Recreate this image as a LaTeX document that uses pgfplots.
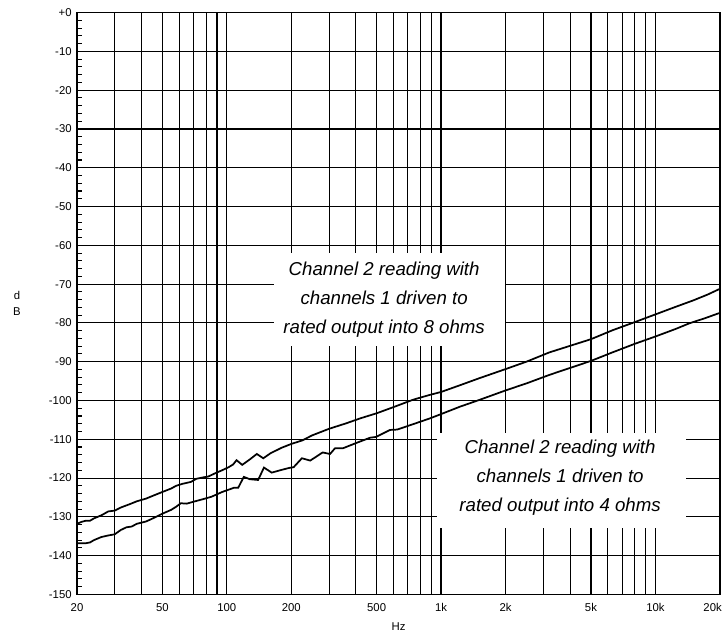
\documentclass[border=0pt]{standalone}
\usepackage{fontspec}
\setmainfont{Liberation Sans}
\usepackage{pgfplots}
\pgfplotsset{compat=1.18}
\begin{document}
\begin{tikzpicture}
\begin{axis}[
  at={(57.75pt,31.95pt)}, anchor=south west,
  scale only axis, width=482.25pt, height=436.35pt,
  xmode=log, xmin=20, xmax=20000, ymin=-150, ymax=0,
  xtick={20,30,40,50,60,70,80,90,100,200,300,400,500,600,700,800,900,1000,2000,3000,4000,5000,6000,7000,8000,9000,10000,20000},
  xticklabels={20,{},{},50,{},{},{},{},100,200,{},{},500,{},{},{},{},1k,2k,{},{},5k,{},{},{},{},10k,{}},
  minor xtick={},
  ytick={-150,-140,...,0},
  yticklabels={-150,-140,-130,-120,-110,-100,-90,-80,-70,-60,-50,-40,-30,-20,-10,+0},
  minor ytick={-148,-146,...,-2},
  xmajorgrids, ymajorgrids,
  major grid style={black, line width=0.8pt},
  axis line style={black, line width=0.8pt},
  ytick pos=left, xtick pos=bottom,
  major tick length=0pt, minor tick length=3.75pt,
  tick style={black, line width=0.8pt},
  tick label style={font=\fontsize{8.5}{10}\selectfont},
  xticklabel style={yshift=-3.5pt},
  yticklabel style={xshift=-0.5pt},
  clip=false,
]
\addplot[black, line width=1.3pt] coordinates {
(20,-131.8)(21,-131.3)(22,-131.0)(23,-131.0)(24,-130.4)(26,-129.6)(28,-128.6)(30,-128.4)
(32,-127.6)(35,-126.8)(38,-126.0)(42,-125.3)(46,-124.4)(50,-123.6)(55,-122.7)(58,-122.0)
(62,-121.5)(68,-121.0)(72,-120.2)(78,-119.8)(82,-119.6)(88,-118.8)(95,-118.0)(102,-117.2)
(107,-116.5)(111,-115.4)(118,-116.6)(128,-115.2)(138,-113.8)(148,-114.9)(160,-113.6)
(180,-112.2)(200,-111.2)(225,-110.3)(250,-109.0)(300,-107.3)(360,-105.9)(420,-104.6)
(500,-103.3)(600,-101.7)(740,-99.8)(880,-98.6)(1000,-97.8)(1220,-96.1)(1500,-94.3)
(2000,-91.9)(2500,-90.0)(3200,-87.6)(4000,-85.9)(5000,-84.2)(6300,-81.9)(8000,-79.8)
(10000,-77.8)(12500,-75.8)(15000,-74.2)(17500,-72.7)(20000,-71.2)
};
\addplot[black, line width=1.3pt] coordinates {
(20,-136.8)(22,-136.8)(23,-136.6)(24,-136.0)(26,-135.2)(28,-134.8)(30,-134.5)(32,-133.4)
(34,-132.7)(36,-132.5)(38,-131.8)(42,-131.2)(46,-130.2)(50,-129.2)(55,-128.2)(58,-127.4)
(61,-126.5)(65,-126.6)(70,-126.1)(78,-125.4)(85,-124.8)(95,-123.6)(102,-123.0)(108,-122.5)
(113,-122.5)(120,-119.7)(128,-120.3)(140,-120.5)(149,-117.3)(162,-118.6)(180,-117.9)
(195,-117.4)(205,-117.2)(224,-114.9)(245,-115.5)(280,-113.4)(303,-113.8)(320,-112.3)
(349,-112.3)(400,-111.0)(466,-109.6)(497,-109.4)(577,-107.6)(624,-107.5)(750,-106.0)
(888,-104.6)(1000,-103.5)(1224,-101.6)(1500,-99.9)(2000,-97.4)(2500,-95.6)(3200,-93.4)
(4000,-91.6)(5000,-89.8)(6300,-87.6)(8000,-85.4)(10000,-83.5)(12500,-81.5)(14400,-80.1)
(17000,-78.8)(20000,-77.4)
};
\draw[black, line width=1.8pt] (axis cs:1000,-150) -- (axis cs:1000,0);
\draw[black, line width=1.8pt] (axis cs:20,-30) -- (axis cs:20000,-30);
\fill[white] (axis cs:166,-62) rectangle (axis cs:1990,-85.9);
\fill[white] (axis cs:958,-108.4) rectangle (axis cs:13900,-132.8);
\node[align=center, font=\fontsize{14}{21.75}\selectfont\itshape] at (axis cs:542,-73.9)
  {Channel 2 reading with\\channels 1 driven to\\rated output into 8 ohms};
\node[align=center, font=\fontsize{14}{21.75}\selectfont\itshape] at (axis cs:3589,-120)
  {Channel 2 reading with\\channels 1 driven to\\rated output into 4 ohms};
\node[font=\fontsize{8.5}{10}\selectfont, anchor=north east, inner sep=0pt] at ([xshift=1.5pt,yshift=-6.2pt]rel axis cs:1,0) {20k};
\node[font=\fontsize{8.5}{10}\selectfont] at ([yshift=-24.5pt]rel axis cs:0.5,0) {Hz};
\node[font=\fontsize{8.5}{12}\selectfont, align=center] at ([xshift=-45pt]rel axis cs:0,0.5) {d\\B};
\end{axis}
\pgfresetboundingbox
\useasboundingbox (0,0) rectangle (541.5pt,477.75pt);
\end{tikzpicture}
\end{document}
